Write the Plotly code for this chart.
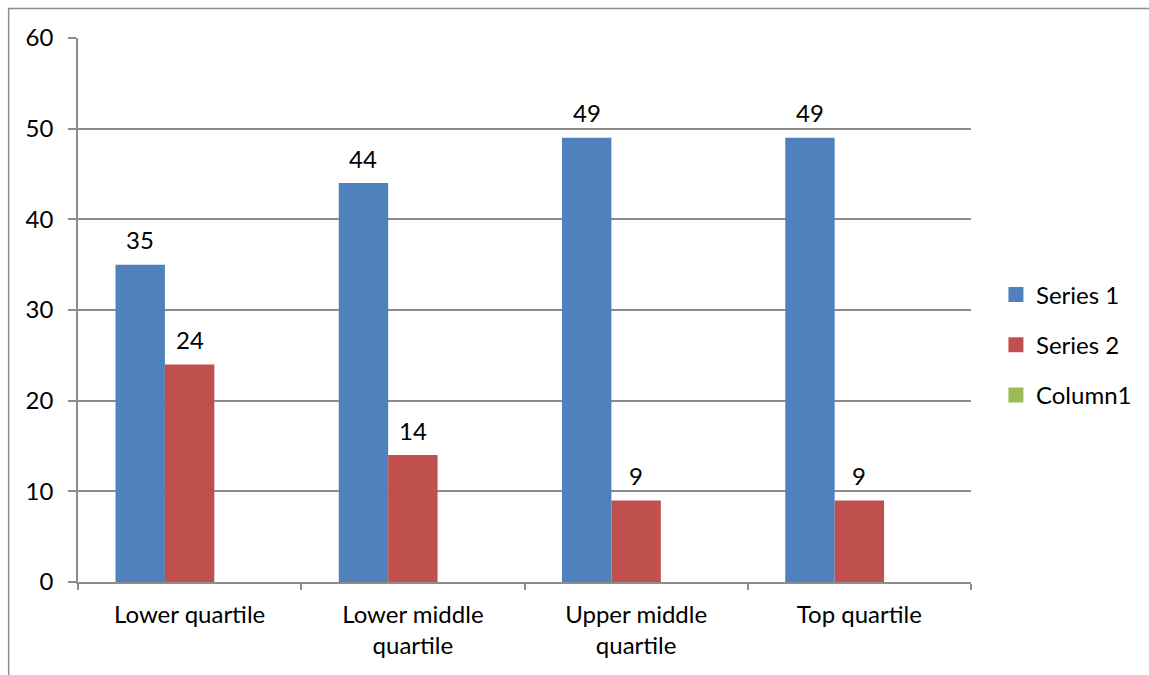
import plotly.graph_objects as go

categories = ["Lower quartile", "Lower middle<br>quartile", "Upper middle<br>quartile", "Top quartile"]
series_names = ["Series 1", "Series 2", "Column1"]
series1 = [35, 44, 49, 49]
series2 = [24, 14, 9, 9]
column1 = [None, None, None, None]
colors = ["#4f81bd", "#c0504d", "#9bbb59"]

FONT = "Lato, Carlito, Calibri, sans-serif"
FS = 24
GRID = "#8c8c8c"

fig = go.Figure()
for name, vals, col in zip(series_names, [series1, series2, column1], colors):
    fig.add_trace(go.Bar(name=name, x=categories, y=vals, marker_color=col,
                         marker_line_width=0, showlegend=False))
# legend entries with larger square swatches
for i, (name, col) in enumerate(zip(series_names, colors)):
    fig.add_trace(go.Scatter(name=name, x=[None], y=[None], mode="markers",
                             marker=dict(symbol="square", size=15, color=col),
                             legendgroup=f"g{i}", showlegend=True))

# plot area geometry (pixels)
L, R, T, B = 78, 176, 38, 93
W, H = 1149, 675
pw = W - L - R
ph = H - T - B
bar_w = pw / 4 * (1 - 0.336) / 3

annotations = []
for i, c in enumerate(categories):
    for vals, off in ((series1, -1), (series2, 0)):
        v = vals[i]
        if v is None:
            continue
        annotations.append(dict(x=c, y=v, xref="x", yref="y", text=str(v), showarrow=False,
                                xshift=off * bar_w, yshift=25,
                                font=dict(size=FS, color="black", family=FONT)))

fig.update_layout(
    width=W, height=H,
    margin=dict(l=L, r=R, t=T, b=B),
    paper_bgcolor="white", plot_bgcolor="white",
    barmode="group", bargap=0.336, bargroupgap=0,
    font=dict(family=FONT, size=FS, color="black"),
    showlegend=True,
    legend=dict(x=1.0 + (998 - (W - R)) / pw, xanchor="left",
                y=1 - (345 - T) / ph, yanchor="middle",
                tracegroupgap=16, font=dict(size=FS, family=FONT),
                itemwidth=30, bgcolor="rgba(0,0,0,0)"),
    annotations=annotations,
    xaxis=dict(type="category", showline=True, linecolor=GRID, linewidth=1.5,
               ticks="outside", tickson="boundaries", ticklen=6, tickcolor=GRID, tickwidth=1.5,
               showgrid=False, tickfont=dict(size=FS, family=FONT), ticklabelstandoff=10),
    yaxis=dict(range=[0, 60], dtick=10, showline=True, linecolor=GRID, linewidth=1.5,
               ticks="outside", ticklen=8, tickcolor=GRID, tickwidth=1.5,
               showgrid=True, gridcolor=GRID, gridwidth=1.5, zeroline=False,
               tickfont=dict(size=FS, family=FONT), ticklabelstandoff=10),
    shapes=[dict(type="rect", xref="paper", yref="paper",
                 x0=(8.5 - L) / pw, x1=(W + 20 - L) / pw,
                 y0=-(H + 20 - (H - B)) / ph, y1=(H - B - 8.5) / ph,
                 line=dict(color=GRID, width=1.5), fillcolor="rgba(0,0,0,0)", layer="below")],
)

fig.write_html("out.html")
